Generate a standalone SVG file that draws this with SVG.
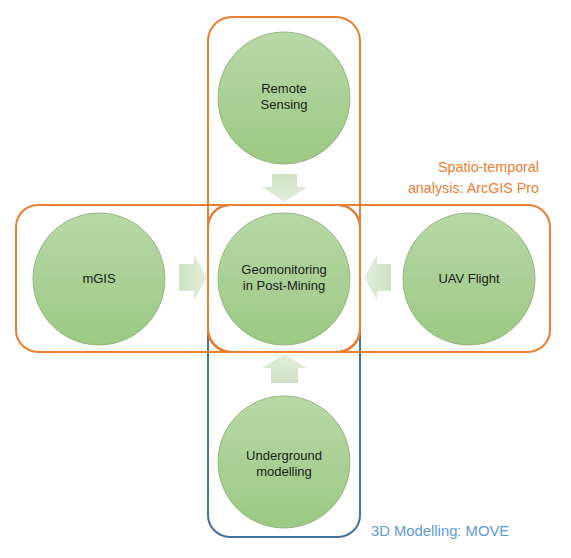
<svg xmlns="http://www.w3.org/2000/svg" width="571" height="558" viewBox="0 0 571 558">
  <defs>
    <linearGradient id="gCircle" x1="0" y1="0" x2="0" y2="1">
      <stop offset="0" stop-color="#b8d8a6"/>
      <stop offset="1" stop-color="#9bc983"/>
    </linearGradient>
    <linearGradient id="gDown" x1="0" y1="0" x2="0" y2="1">
      <stop offset="0" stop-color="#cfe1c3"/>
      <stop offset="1" stop-color="#e3eedc"/>
    </linearGradient>
    <linearGradient id="gUp" x1="0" y1="1" x2="0" y2="0">
      <stop offset="0" stop-color="#cfe1c3"/>
      <stop offset="1" stop-color="#e3eedc"/>
    </linearGradient>
    <linearGradient id="gRight" x1="0" y1="0" x2="1" y2="0">
      <stop offset="0" stop-color="#cfe1c3"/>
      <stop offset="1" stop-color="#e3eedc"/>
    </linearGradient>
    <linearGradient id="gLeft" x1="1" y1="0" x2="0" y2="0">
      <stop offset="0" stop-color="#cfe1c3"/>
      <stop offset="1" stop-color="#e3eedc"/>
    </linearGradient>
  </defs>
  <style>
    .orange { fill: none; stroke: #ed7d31; stroke-width: 2; }
    .blue { fill: none; stroke: #41719c; stroke-width: 2; }
    .circle { fill: url(#gCircle); stroke: #86a871; stroke-width: 0.8; }
    .ntext { font-family: "Liberation Sans", Arial, sans-serif; font-size: 13px; fill: #1a1a1a; text-anchor: middle; }
    .olabel { font-family: "Liberation Sans", Arial, sans-serif; font-size: 14.3px; fill: #ed7d31; text-anchor: end; }
    .blabel { font-family: "Liberation Sans", Arial, sans-serif; font-size: 14.8px; fill: #5b9bd5; }
  </style>
  <rect width="571" height="558" fill="#ffffff"/>

  <g id="groups">
    <rect class="blue" x="208" y="205" width="152" height="332" rx="22"/>
    <rect class="orange" x="16" y="205" width="534" height="147" rx="22"/>
    <rect class="orange" x="208" y="17" width="152" height="335" rx="24"/>
    <rect class="orange" x="208" y="205" width="152" height="147" rx="22"/>
    <text class="olabel" x="539" y="172">Spatio-temporal</text>
    <text class="olabel" x="539" y="193">analysis: ArcGIS Pro</text>
    <text class="blabel" x="371" y="536">3D Modelling: MOVE</text>
  </g>

  <g id="connectors">
    <polygon fill="url(#gDown)" points="272,174 297,174 297,187 307,187 284.5,202 262,187 272,187"/>
    <polygon fill="url(#gRight)" points="179,264 194,264 194,255 207,277.5 194,300 194,291 179,291"/>
    <polygon fill="url(#gLeft)" points="391,264 377,264 377,255 364,277.5 377,300 377,291 391,291"/>
    <polygon fill="url(#gUp)" points="271,383 298,383 298,368 307,368 284.5,354 262,368 271,368"/>
  </g>

  <g id="remote-sensing">
    <circle class="circle" cx="284" cy="98" r="66"/>
    <text class="ntext" x="284" y="93">Remote</text>
    <text class="ntext" x="284" y="109">Sensing</text>
  </g>

  <g id="geomonitoring">
    <circle class="circle" cx="284" cy="279" r="66"/>
    <text class="ntext" x="284" y="274">Geomonitoring</text>
    <text class="ntext" x="284" y="290">in Post-Mining</text>
  </g>

  <g id="mgis">
    <circle class="circle" cx="99" cy="279" r="66"/>
    <text class="ntext" x="99" y="283">mGIS</text>
  </g>

  <g id="uav-flight">
    <circle class="circle" cx="469" cy="279" r="66"/>
    <text class="ntext" x="469" y="283">UAV Flight</text>
  </g>

  <g id="underground-modelling">
    <circle class="circle" cx="284" cy="462" r="66"/>
    <text class="ntext" x="284" y="460">Underground</text>
    <text class="ntext" x="284" y="476">modelling</text>
  </g>
</svg>
